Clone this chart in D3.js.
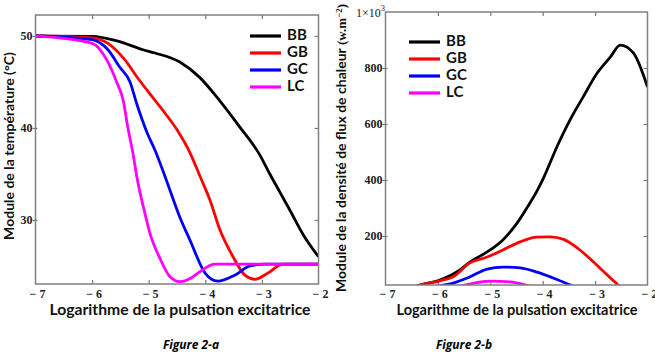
<!DOCTYPE html>
<html>
<head>
<meta charset="utf-8">
<script src="https://cdn.jsdelivr.net/npm/d3@7"></script>
<style>
  body { margin: 0; background: #fff; }
  .tick-lbl { font-family: "Liberation Serif", serif; font-weight: bold; font-size: 12px; fill: #222; }
  .title { font-family: Lato, "Open Sans", sans-serif; font-weight: bold; fill: #111; }
</style>
</head>
<body>
<svg id="fig" width="655" height="355"></svg>
<script>
// ---- data ----
var xTicks = [-7, -6, -5, -4, -3, -2];
var tempTicks = [30, 40, 50];
var fluxTicks = [200, 400, 600, 800];
var names = ["BB", "GB", "GC", "LC"];
var colors = ["#000000", "#ff0000", "#0000ff", "#ff00ff"];

// Figure 2-a : module de la temperature (°C)
var tempBB_x = [-7, -6, -5.56, -5.1, -4.89, -4.45, -4.1, -3.75, -3.39, -3.04, -2.86, -2.68, -2.5, -2.27, -2];
var tempBB_y = [50, 49.95, 49.46, 48.5, 48.15, 47.17, 45.5, 43.0, 40.1, 37.1, 35.0, 33.0, 31.0, 28.4, 26.0];
var tempGB_x = [-7, -6, -5.72, -5.42, -5.19, -4.94, -4.71, -4.5, -4.27, -4.09, -3.92, -3.74, -3.51, -3.3, -3.12, -2.9, -2.63, -2];
var tempGB_y = [50, 49.8, 49.2, 47.4, 45.4, 43.4, 41.6, 39.8, 37.3, 34.7, 32.2, 28.9, 26.0, 24.0, 23.55, 24.2, 25.2, 25.2];
var tempGC_x = [-7, -6, -5.72, -5.51, -5.33, -5.21, -5.03, -4.89, -4.71, -4.45, -4.27, -4.0, -3.78, -3.48, -3.21, -2.95, -2];
var tempGC_y = [50, 49.6, 48.5, 46.6, 45.0, 42.6, 39.5, 37.6, 34.7, 30.3, 27.8, 24.2, 23.35, 24.0, 25.0, 25.2, 25.2];
var tempLC_x = [-7, -6, -5.74, -5.56, -5.45, -5.37, -5.28, -5.21, -5.07, -4.98, -4.8, -4.62, -4.45, -4.25, -4.09, -3.83, -2];
var tempLC_y = [50, 49.2, 47.4, 44.9, 43.0, 40.1, 37.3, 34.7, 30.8, 28.6, 25.8, 23.8, 23.3, 23.7, 24.4, 25.2, 25.2];

// Figure 2-b : module de la densite de flux de chaleur (w.m-2)
var fluxBB_x = [-7, -6.6, -6.34, -5.96, -5.58, -5.39, -5.06, -4.76, -4.49, -4.29, -4.1, -3.99, -3.73, -3.48, -3.23, -2.96, -2.71, -2.52, -2.27, -2];
var fluxBB_y = [0, 10, 25, 43, 79, 107, 143, 186, 246, 304, 364, 405, 518, 614, 696, 782, 839, 882, 854, 732];
var fluxGB_x = [-7, -6.6, -6.34, -5.96, -5.71, -5.39, -5.06, -4.76, -4.43, -4.11, -3.86, -3.6, -3.29, -2.91, -2.6, -2.4];
var fluxGB_y = [0, 10, 25, 40, 54, 104, 125, 150, 179, 196, 197, 188, 150, 86, 32, 0];
var fluxGC_x = [-7, -6.5, -5.96, -5.71, -5.39, -5.06, -4.76, -4.43, -4.11, -3.8, -3.47, -3.2];
var fluxGC_y = [0, 5, 22, 32, 54, 82, 89, 86, 71, 50, 25, 5];
var fluxLC_x = [-7, -5.9, -5.58, -5.0, -4.62, -4.24, -3.9];
var fluxLC_y = [0, 5, 21, 39, 36, 21, 5];

function zip(xs, ys) { return xs.map(function(x, i) { return {x: x, y: ys[i]}; }); }

var svg = d3.select("#fig");

function drawPanel(opt) {
  var x = d3.scaleLinear().domain([-7, -2]).range([opt.left, opt.right]);
  var y = d3.scaleLinear().domain(opt.ydom).range([opt.bottom, opt.top]);
  var g = svg.append("g");

  g.append("clipPath").attr("id", opt.id + "clip")
    .append("rect")
    .attr("x", opt.left).attr("y", opt.top)
    .attr("width", opt.right - opt.left).attr("height", opt.bottom - opt.top);

  // inward ticks on the four sides
  var inner = xTicks.slice(1, 5);
  g.append("g").attr("transform", "translate(0," + opt.bottom + ")")
    .call(d3.axisBottom(x).tickValues(inner).tickSize(-4).tickFormat(""));
  g.append("g").attr("transform", "translate(0," + opt.top + ")")
    .call(d3.axisTop(x).tickValues(inner).tickSize(-4).tickFormat(""));
  g.append("g").attr("transform", "translate(" + (opt.left + 2) + ",0)")
    .call(d3.axisLeft(y).tickValues(opt.yticks).tickSize(5).tickFormat(""));
  g.append("g").attr("transform", "translate(" + opt.right + ",0)")
    .call(d3.axisRight(y).tickValues(opt.yticks).tickSize(-4).tickFormat(""));
  g.selectAll(".domain").remove();
  g.selectAll(".tick line").attr("stroke", "#777").attr("stroke-width", 1.2);

  // x tick labels
  g.selectAll(".xl").data(xTicks).enter().append("text")
    .attr("class", "tick-lbl")
    .attr("x", function(d) { return x(d) + 2; })
    .attr("y", 298)
    .attr("text-anchor", "middle")
    .text(function(d) { return "\u2212 " + Math.abs(d); });

  // y tick labels
  g.selectAll(".yl").data(opt.yticks).enter().append("text")
    .attr("class", "tick-lbl")
    .attr("x", opt.left - 3)
    .attr("y", function(d) { return y(d) + 4; })
    .attr("text-anchor", "end")
    .text(function(d) { return d; });

  // curves
  var line = d3.line().curve(d3.curveMonotoneX)
    .x(function(d) { return x(d.x); })
    .y(function(d) { return y(d.y); });
  var cg = g.append("g").attr("clip-path", "url(#" + opt.id + "clip)");
  opt.series.forEach(function(s, i) {
    cg.append("path").datum(s)
      .attr("d", line)
      .attr("fill", "none")
      .attr("stroke", colors[i])
      .attr("stroke-width", 2.8)
      .attr("stroke-linejoin", "round");
  });

  // frame
  g.append("rect")
    .attr("x", opt.left).attr("y", opt.top)
    .attr("width", opt.right - opt.left).attr("height", opt.bottom - opt.top)
    .attr("fill", "none").attr("stroke", "#808080").attr("stroke-width", 1.5);

  // legend
  names.forEach(function(n, i) {
    var ly = opt.legY + i * 17;
    g.append("line")
      .attr("x1", opt.legX).attr("x2", opt.legX + 31)
      .attr("y1", ly + 2).attr("y2", ly + 2)
      .attr("stroke", colors[i]).attr("stroke-width", 3.2);
    g.append("text").attr("class", "title")
      .attr("x", opt.legX + 37).attr("y", ly + 5.5)
      .style("font-size", "15px")
      .text(n);
  });

  // x title
  g.append("text").attr("class", "title")
    .attr("x", opt.xtX).attr("y", 315)
    .attr("text-anchor", "middle")
    .attr("textLength", opt.xtW).attr("lengthAdjust", "spacingAndGlyphs")
    .style("font-size", "15px")
    .text("Logarithme de la pulsation excitatrice");

  // caption
  g.append("text")
    .attr("x", opt.capX).attr("y", 349)
    .attr("text-anchor", "middle")
    .style("font-family", "'Open Sans', sans-serif")
    .style("font-weight", "bold").style("font-style", "italic")
    .style("font-size", "12px")
    .text(opt.caption);

  return {x: x, y: y, g: g};
}

var pa = drawPanel({
  id: "a", left: 35.5, right: 318.5, top: 15, bottom: 284,
  ydom: [23.04, 52.28], yticks: tempTicks,
  series: [zip(tempBB_x, tempBB_y), zip(tempGB_x, tempGB_y), zip(tempGC_x, tempGC_y), zip(tempLC_x, tempLC_y)],
  legX: 250, legY: 34, xtX: 180, xtW: 261, capX: 191, caption: "Figure 2-a"
});

var pb = drawPanel({
  id: "b", left: 385.5, right: 647.5, top: 12, bottom: 285,
  ydom: [25, 1000], yticks: fluxTicks,
  series: [zip(fluxBB_x, fluxBB_y), zip(fluxGB_x, fluxGB_y), zip(fluxGC_x, fluxGC_y), zip(fluxLC_x, fluxLC_y)],
  legX: 409, legY: 40, xtX: 517, xtW: 241, capX: 464, caption: "Figure 2-b"
});

// 1x10^3 label at the top of panel b
var topLbl = pb.g.append("text").attr("class", "tick-lbl")
  .attr("x", 356).attr("y", 17).style("font-weight", "normal").style("font-size", "12px");
topLbl.append("tspan").text("1\u00d710");
topLbl.append("tspan").attr("dy", -6).style("font-size", "8.5px").text("3");

// y titles
svg.append("text").attr("class", "title")
  .attr("transform", "translate(14,146) rotate(-90)")
  .attr("text-anchor", "middle")
  .style("font-size", "14px")
  .text("Module de la temp\u00e9rature (\u00b0C)");

var yt = svg.append("text").attr("class", "title")
  .attr("transform", "translate(346,4) rotate(-90)")
  .attr("text-anchor", "end")
  .style("font-size", "14px");
yt.append("tspan").text("Module de la densit\u00e9 de flux de chaleur ");
yt.append("tspan").style("font-family", "'Liberation Serif', serif").style("font-size", "13px").text("(w.m");
yt.append("tspan").attr("dy", -4).style("font-family", "'Liberation Serif', serif").style("font-size", "9px").text("\u22122");
yt.append("tspan").attr("dy", 4).style("font-family", "'Liberation Serif', serif").style("font-size", "13px").text(")");
</script>
</body>
</html>
